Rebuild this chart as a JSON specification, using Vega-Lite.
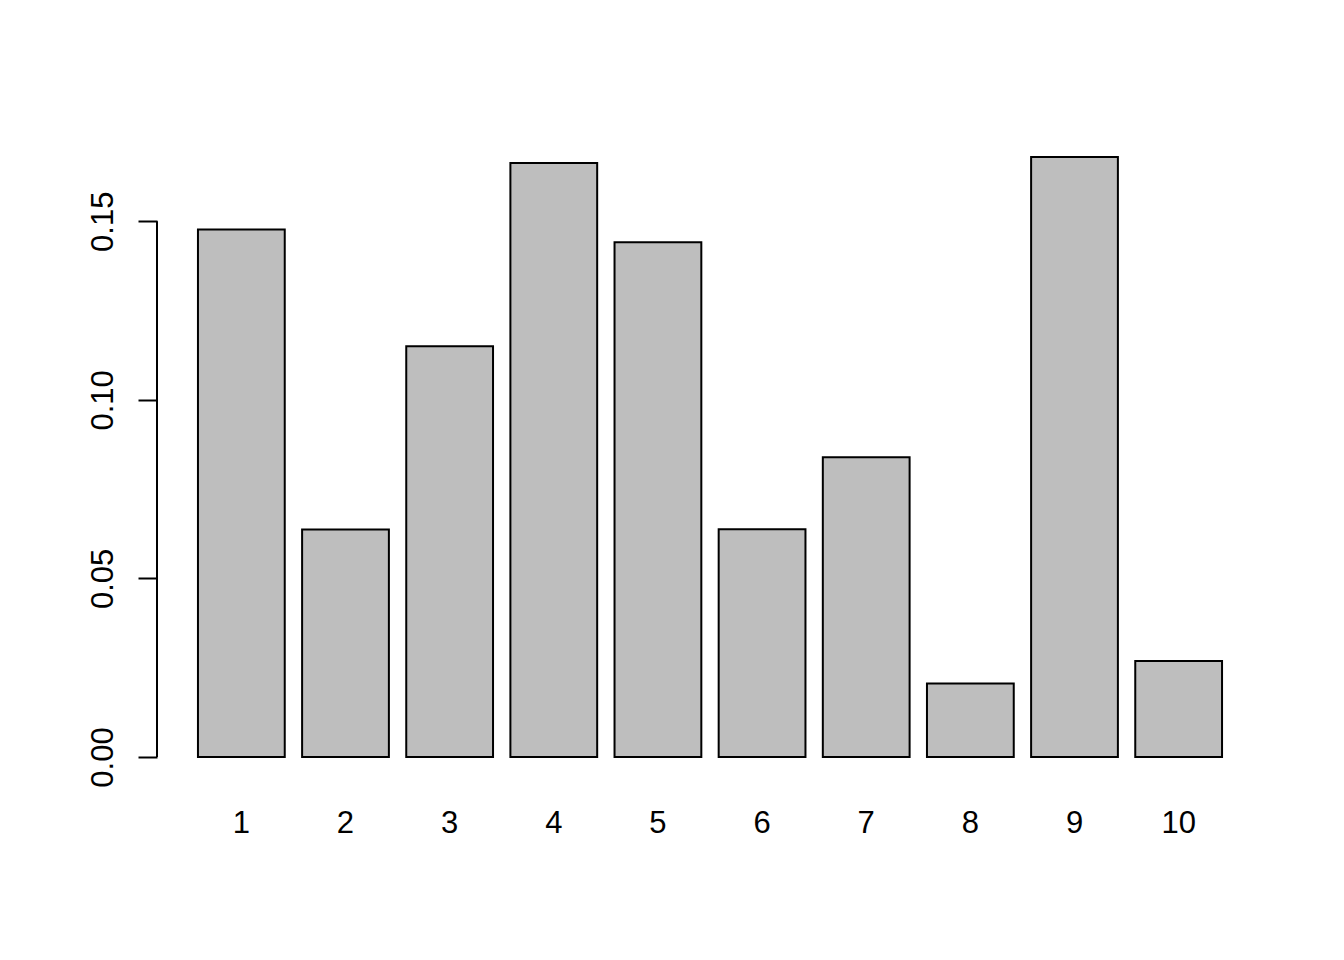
{
  "$schema": "https://vega.github.io/schema/vega-lite/v6.json",
  "width": 1106,
  "height": 600,
  "autosize": {"type": "none"},
  "padding": {"left": 157, "top": 157, "right": 81, "bottom": 203},
  "background": "white",
  "config": {
    "view": {"stroke": null},
    "font": "Liberation Sans"
  },
  "layer": [
    {
      "data": {
        "values": [
          {"k": "1", "v": 0.1477},
          {"k": "2", "v": 0.0637},
          {"k": "3", "v": 0.1150},
          {"k": "4", "v": 0.1663},
          {"k": "5", "v": 0.1441},
          {"k": "6", "v": 0.0638},
          {"k": "7", "v": 0.0839},
          {"k": "8", "v": 0.0206},
          {"k": "9", "v": 0.1680},
          {"k": "10", "v": 0.0269}
        ]
      },
      "mark": {"type": "bar", "fill": "#BEBEBE", "stroke": "black", "strokeWidth": 2, "cornerRadius": 0},
      "encoding": {
        "x": {
          "field": "k", "type": "nominal", "sort": null,
          "scale": {"paddingInner": 0.16667, "paddingOuter": 0.3933},
          "axis": {
            "title": null, "domain": false, "ticks": false, "tickSize": 0,
            "labelAngle": 0, "labelFontSize": 31, "labelColor": "black",
            "labelFont": "Liberation Sans",
            "labelBaseline": "alphabetic", "labelAlign": "center",
            "labelPadding": 75, "grid": false
          }
        },
        "y": {
          "field": "v", "type": "quantitative",
          "scale": {"domain": [0, 0.168], "nice": false, "zero": true},
          "axis": {
            "title": null, "domain": false, "grid": false,
            "values": [0, 0.05, 0.1, 0.15], "format": ".2f",
            "tickSize": 19, "tickWidth": 2, "tickColor": "black",
            "labelAngle": -90, "labelAlign": "center", "labelBaseline": "alphabetic",
            "labelPadding": 26, "labelFontSize": 31, "labelColor": "black",
            "labelFont": "Liberation Sans"
          }
        }
      }
    },
    {
      "data": {"values": [{"lo": 0, "hi": 0.15, "pos": 0}]},
      "mark": {"type": "rule", "color": "black", "strokeWidth": 2},
      "encoding": {
        "x": {"field": "pos", "type": "quantitative", "scale": {"domain": [0, 1]}, "axis": null},
        "y": {"field": "lo", "type": "quantitative"},
        "y2": {"field": "hi"}
      }
    }
  ],
  "resolve": {"scale": {"x": "independent"}}
}
